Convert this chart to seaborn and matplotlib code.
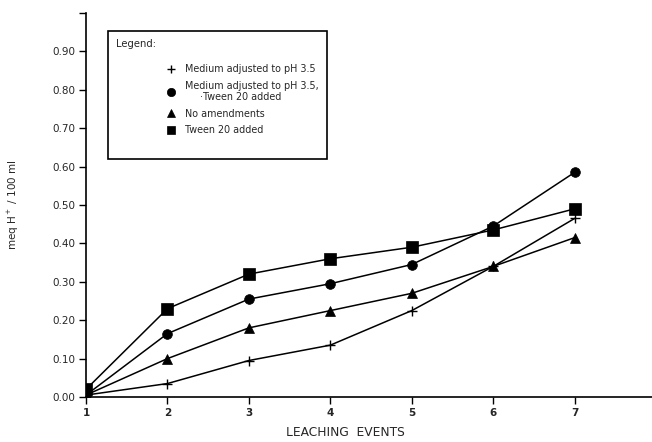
import matplotlib
matplotlib.use("Agg")
import matplotlib.pyplot as plt
import seaborn as sns
import pandas as pd
from matplotlib.lines import Line2D

events = [1, 2, 3, 4, 5, 6, 7]
ph35 = [0.005, 0.035, 0.095, 0.135, 0.225, 0.34, 0.465]
ph35_tween = [0.005, 0.165, 0.255, 0.295, 0.345, 0.445, 0.585]
no_amend = [0.005, 0.10, 0.18, 0.225, 0.27, 0.34, 0.415]
tween = [0.02, 0.23, 0.32, 0.36, 0.39, 0.435, 0.49]

series_names = ["Medium adjusted to pH 3.5",
                "Medium adjusted to pH 3.5,\n     \u00b7Tween 20 added",
                "No amendments",
                "Tween 20 added"]
series_vals = [ph35, ph35_tween, no_amend, tween]
markers = ["+", "o", "^", "s"]
msizes = [7, 7, 7, 8]

yticks = [0.0, 0.1, 0.2, 0.3, 0.4, 0.5, 0.6, 0.7, 0.8, 0.9]
ytick_labels = ["0.00", "0.10", "0.20", "0.30", "0.40", "0.50", "0.60", "0.70", "0.80", "0.90"]

sns.set_theme(style="white")
plt.rcParams["font.family"] = ["DejaVu Sans"]

fig = plt.figure(figsize=(6.52, 4.42), dpi=100)
ax = fig.add_axes([86/652, 1-397/442, 1-86/652, (397-13)/442])

for name, vals, m, ms in zip(series_names, series_vals, markers, msizes):
    df = pd.DataFrame({"event": events, "value": vals})
    sns.lineplot(data=df, x="event", y="value", ax=ax, color="black",
                 marker=m, markersize=ms, linewidth=1.1,
                 markeredgecolor="black", markeredgewidth=1.0 if m == "+" else 0.5)

ax.set_xlim(1, 7.95)
ax.set_ylim(0, 1.0)
ax.set_xticks(events)
ax.set_xticklabels([str(e) for e in events], fontsize=7.5, fontweight="bold")
ax.set_yticks(yticks + [1.0])
ax.set_yticklabels(ytick_labels + [""], fontsize=7.5)
ax.tick_params(axis="both", direction="out", length=5, width=1, color="black",
               left=True, bottom=True, pad=3)
for s in ["top", "right"]:
    ax.spines[s].set_visible(False)
for s in ["left", "bottom"]:
    ax.spines[s].set_color("black")
    ax.spines[s].set_linewidth(1.2)

ax.set_xlabel("LEACHING  EVENTS", fontsize=8.8, labelpad=10)
ax.xaxis.set_label_coords((345 - 86) / 566, -0.075)
ax.set_ylabel(r"meq H$^+$ / 100 ml", fontsize=7.5, labelpad=22)

handles = [Line2D([], [], color="black", linestyle="none", marker=m,
                  markersize=6, markeredgewidth=1.0 if m == "+" else 0.5)
           for m in markers]
handles.append(Line2D([], [], color="none", linestyle="none"))
labels = series_names + [" "]
leg = ax.legend(handles, labels, title="Legend:", alignment="left",
                loc="upper left", bbox_to_anchor=(108/652, 1-31/442),
                bbox_transform=fig.transFigure, fontsize=6.9,
                title_fontsize=7.2, frameon=True, fancybox=False,
                edgecolor="black", framealpha=1, borderpad=0.85,
                borderaxespad=0,
                handlelength=11.5, handletextpad=-4.3, labelspacing=0.66,
                numpoints=1)
leg.get_frame().set_linewidth(1.2)
leg._legend_box.sep = 11

fig.savefig("out.png", dpi=100)
